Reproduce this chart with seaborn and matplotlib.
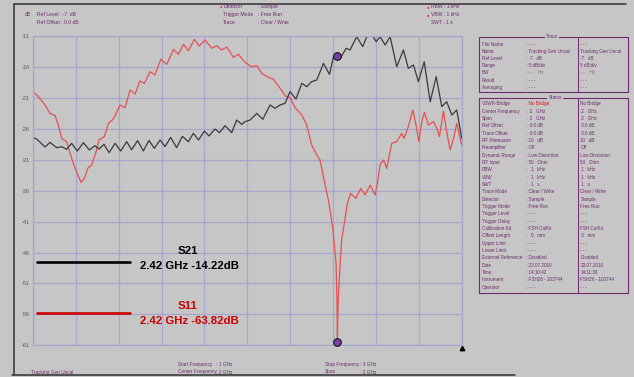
import matplotlib
matplotlib.use("Agg")
import matplotlib.pyplot as plt
from matplotlib.patches import Rectangle
from matplotlib.lines import Line2D
import numpy as np
import pandas as pd
import seaborn as sns

# ---- sweep settings / scale -------------------------------------------
START_GHZ = 1.0
STOP_GHZ = 3.0
Y_TICK_LABELS = ["-11", "-16", "-21", "-26", "-31", "-36",
                 "-41", "-46", "-51", "-56", "-61"]

# ---- S21 transmission trace (black) -----------------------------------
s21_freq = [1.000, 1.017, 1.056, 1.079, 1.110, 1.134, 1.157, 1.180, 1.207, 1.235,
            1.263, 1.289, 1.308, 1.331, 1.355, 1.383, 1.409, 1.437, 1.460, 1.488,
            1.515, 1.541, 1.566, 1.593, 1.616, 1.642, 1.670, 1.697, 1.725, 1.748,
            1.772, 1.800, 1.821, 1.849, 1.870, 1.896, 1.927, 1.950, 1.974, 1.989,
            2.013, 2.044, 2.072, 2.106, 2.129, 2.153, 2.176, 2.199, 2.227, 2.254,
            2.277, 2.300, 2.324, 2.355, 2.383, 2.402, 2.420, 2.433, 2.461, 2.479,
            2.510, 2.538, 2.557, 2.585, 2.601, 2.619, 2.643, 2.666, 2.697, 2.728,
            2.751, 2.775, 2.798, 2.825, 2.853, 2.881, 2.907, 2.930, 2.954, 2.977,
            3.000]
s21_level = [-27.43, -27.65, -28.94, -28.19, -29.05, -28.89, -29.32, -28.35, -29.59, -28.24,
             -29.43, -28.73, -29.27, -28.51, -29.86, -28.35, -29.59, -28.08, -29.38, -27.92,
             -29.59, -27.87, -29.16, -27.81, -28.89, -27.38, -29.05, -27.22, -28.08, -26.73,
             -27.81, -26.36, -27.17, -26.03, -26.63, -25.50, -26.63, -24.58, -25.28, -24.85,
             -24.58, -23.50, -24.47, -22.15, -22.69, -22.15, -21.88, -20.00, -21.18, -18.65,
             -19.19, -18.38, -18.11, -15.42, -17.20, -14.34, -14.22, -14.61, -13.00, -13.26,
             -11.11, -12.72, -11.11, -11.00, -11.92, -11.11, -12.45, -11.11, -15.96, -13.26,
             -16.23, -15.69, -18.38, -15.15, -21.62, -17.57, -22.42, -21.62, -23.77, -22.96,
             -27.54]

# ---- S11 reflection trace (red) ---------------------------------------
s11_freq = [1.000, 1.025, 1.056, 1.079, 1.103, 1.118, 1.134, 1.157, 1.173, 1.196,
            1.224, 1.240, 1.255, 1.274, 1.292, 1.308, 1.333, 1.352, 1.370, 1.383,
            1.406, 1.429, 1.453, 1.476, 1.499, 1.520, 1.546, 1.569, 1.596, 1.624,
            1.655, 1.678, 1.702, 1.725, 1.753, 1.775, 1.803, 1.834, 1.857, 1.880,
            1.904, 1.935, 1.958, 1.989, 2.020, 2.044, 2.067, 2.098, 2.122, 2.153,
            2.176, 2.199, 2.223, 2.254, 2.277, 2.300, 2.324, 2.339, 2.363, 2.378,
            2.398, 2.414, 2.4185, 2.420, 2.4235, 2.433, 2.440, 2.456, 2.467, 2.482,
            2.506, 2.529, 2.549, 2.573, 2.596, 2.608, 2.619, 2.635, 2.650, 2.674,
            2.697, 2.720, 2.731, 2.751, 2.772, 2.787, 2.800, 2.814, 2.826, 2.845,
            2.868, 2.884, 2.896, 2.915, 2.930, 2.946, 2.962, 2.977, 3.000]
s11_level = [-20.00, -20.81, -22.15, -23.50, -23.88, -25.39, -27.54, -28.08, -29.97, -32.39,
             -34.66, -34.01, -32.39, -31.85, -29.97, -27.81, -27.27, -25.12, -24.58, -23.88,
             -22.15, -22.59, -19.73, -20.38, -18.27, -18.65, -16.77, -17.30, -14.77, -15.58,
             -13.16, -13.96, -12.35, -13.37, -11.54, -12.62, -11.65, -12.99, -12.56, -13.26,
             -12.78, -14.45, -13.96, -15.26, -15.96, -15.80, -17.04, -17.68, -18.00, -19.46,
             -20.65, -20.97, -22.59, -23.77, -25.39, -28.62, -30.24, -31.05, -35.09, -37.51,
             -41.82, -47.75, -54.75, -63.82, -54.00, -47.75, -43.98, -40.48, -38.05, -36.43,
             -37.24, -35.63, -36.70, -35.09, -36.70, -34.55, -31.85, -31.05, -32.39, -28.35,
             -28.08, -26.73, -27.54, -25.66, -22.96, -25.39, -28.08, -24.85, -23.34, -25.39,
             -24.85, -25.93, -27.27, -23.12, -26.47, -29.43, -27.54, -25.12, -28.62]

# ---- marker readouts ---------------------------------------------------
marker_freq = 2.42
s21_marker_db = -14.22
s11_marker_db = -63.82

# ---- styling -----------------------------------------------------------
W, H = 634, 377
BG = "#c6c6c6"
GRID = "#a6a6cf"
PURPLE = "#6e2a6e"
RED = "#dd1111"
TRACE_RED = "#e85050"
TRACE_BLACK = "#3a3a3a"
DISPLAY_FLOOR = -60.4   # levels below the screen are pinned to its bottom edge
SMALL = 3.6

sns.set_style("white", {"axes.facecolor": BG, "figure.facecolor": BG})
plt.rcParams["font.family"] = ["Liberation Sans", "DejaVu Sans"]

fig = plt.figure(figsize=(W / 100, H / 100), dpi=100)
fig.patch.set_facecolor(BG)


def fx(px):
    return px / W


def fy(py):
    return 1 - py / H


def ftext(px, py, s, size=SMALL, color=PURPLE, **kw):
    kw.setdefault("va", "center")
    kw.setdefault("ha", "left")
    return fig.text(fx(px), fy(py), s, fontsize=size, color=color, **kw)


# ---- trace axes --------------------------------------------------------
ax = fig.add_axes([fx(33), fy(345.3), fx(461.7) - fx(33), fy(36) - fy(345.3)])
ax.set_facecolor(BG)

tick_vals = [float(t) for t in Y_TICK_LABELS]
ax.set_xlim(START_GHZ, STOP_GHZ)
ax.set_ylim(min(tick_vals), max(tick_vals))
ax.set_xticks(np.linspace(START_GHZ, STOP_GHZ, 11))
ax.set_xticklabels([])
ax.set_yticks(tick_vals)
ax.set_yticklabels(Y_TICK_LABELS, fontsize=4.0, color="#555555")
ax.tick_params(length=0, pad=2.5)
ax.grid(True, color=GRID, lw=0.9)
for sp in ax.spines.values():
    sp.set_color(GRID)
    sp.set_linewidth(0.9)

df21 = pd.DataFrame({"freq": s21_freq, "level": np.clip(s21_level, DISPLAY_FLOOR, None)})
df11 = pd.DataFrame({"freq": s11_freq, "level": np.clip(s11_level, DISPLAY_FLOOR, None)})
sns.lineplot(data=df11, x="freq", y="level", ax=ax, color=TRACE_RED, lw=0.9,
             estimator=None, sort=False)
sns.lineplot(data=df21, x="freq", y="level", ax=ax, color=TRACE_BLACK, lw=0.9,
             estimator=None, sort=False)

mk = pd.DataFrame({"freq": [marker_freq, marker_freq],
                   "level": np.clip([s21_marker_db, s11_marker_db], DISPLAY_FLOOR, None)})
sns.scatterplot(data=mk, x="freq", y="level", ax=ax, s=30, color="#7b3fa6",
                edgecolor="#151515", linewidth=0.8, zorder=5, clip_on=False)
ax.set_xlabel("")
ax.set_ylabel("")

# sweep position indicator
ax.plot([1.0], [-0.008], transform=ax.transAxes, marker="^", ms=3.2,
        color="black", clip_on=False)

# ---- marker legend -----------------------------------------------------
fig.add_artist(Line2D([fx(37), fx(130)], [fy(261.7), fy(261.7)], color="black", lw=1.9))
fig.add_artist(Line2D([fx(37), fx(130)], [fy(312.7), fy(312.7)], color="#cc0000", lw=1.9))
bold = dict(size=8.2, weight="bold", ha="center")
ftext(188, 250.7, "S21", color="black", **bold)
ftext(189, 266, f"{marker_freq:.2f} GHz {s21_marker_db:.2f}dB", color="black", **bold)
ftext(188, 305.7, "S11", color="#cc0000", **bold)
ftext(189, 321, f"{marker_freq:.2f} GHz {s11_marker_db:.2f}dB", color="#cc0000", **bold)

# ---- screen frame ------------------------------------------------------
fig.add_artist(Line2D([fx(14), fx(14)], [fy(4.3), fy(375)], color="#303030", lw=1.1))
fig.add_artist(Line2D([fx(14), fx(626)], [fy(4.3), fy(4.3)], color="#303030", lw=1.1))
fig.add_artist(Line2D([fx(12), fx(515)], [fy(375), fy(375)], color="#303030", lw=1.1))

# ---- header ------------------------------------------------------------
ftext(25, 14, "dB")
ftext(36.7, 14, "Ref Level : -7  dB")
ftext(36.7, 22, "Ref Offset : 0.0 dB")

hdr_rows = [("Detector", ": Sample", True), ("Trigger Mode", ": Free Run", False),
            ("Trace", ": Clear / Write", False)]
for i, (lab, val, dot) in enumerate(hdr_rows):
    y = 6.5 + i * 7.9
    if dot:
        ftext(219.5, y, "\u25cf", size=3.0, color=RED)
    ftext(223.3, y, lab)
    ftext(257.5, y, val)

rbw_rows = [("RBW : 1 kHz", True), ("VBW : 1 kHz", True), ("SWT : 1 s", False)]
for i, (lab, dot) in enumerate(rbw_rows):
    y = 6.8 + i * 7.9
    if dot:
        ftext(427, y, "\u25cf", size=3.0, color=RED)
    ftext(431, y, lab)

# ---- footer ------------------------------------------------------------
FOOT = 3.4
ftext(31, 372.3, "Tracking Gen Uncal", size=FOOT)
ftext(178, 364.5, "Start Frequency", size=FOOT)
ftext(216, 364.5, ": 1 GHz", size=FOOT)
ftext(178, 372, "Center Frequency", size=FOOT)
ftext(216, 372, ": 2 GHz", size=FOOT)
ftext(325, 364.5, "Stop Frequency", size=FOOT)
ftext(360.5, 364.5, ": 3 GHz", size=FOOT)
ftext(325, 372, "Span", size=FOOT)
ftext(360.5, 372, ": 2 GHz", size=FOOT)

# ---- settings panel ----------------------------------------------------
BOX_L, BOX_R, DIV_X = 479, 628, 578
COL_LAB, COL_VAL, COL_VAL2 = 481.5, 526, 580.5
PANEL = 3.35


def panel_box(top, bottom, title, title_x):
    fig.add_artist(Rectangle((fx(BOX_L), fy(bottom)), fx(BOX_R) - fx(BOX_L),
                             fy(top) - fy(bottom), transform=fig.transFigure,
                             fill=False, ec=PURPLE, lw=0.8))
    fig.add_artist(Line2D([fx(DIV_X), fx(DIV_X)], [fy(top), fy(bottom)],
                          color=PURPLE, lw=0.7))
    ftext(title_x, top, title, size=PANEL, ha="center",
          bbox=dict(fc=BG, ec="none", pad=0.6))


trace_rows = [
    ("File Name", ": - - -", "- - -", RED),
    ("Name", ": Tracking Gen Uncal", "Tracking Gen Uncal", PURPLE),
    ("Ref Level", ": -7   dB", "-7   dB", PURPLE),
    ("Range", ": 5 dB/div", "5 dB/div", PURPLE),
    ("BW", ": --.-   Hz", "--.-   Hz", "#8a6a8a"),
    ("Result", ": - - -", "- - -", PURPLE),
    ("Averaging", ": - - -", "- - -", PURPLE),
]
status_rows = [
    ("VSWR-Bridge", ": No Bridge", "No Bridge", RED),
    ("Center Frequency", ":  2   GHz", " 2   GHz", PURPLE),
    ("Span", ":  2   GHz", " 2   GHz", PURPLE),
    ("Ref Offset", ":  0.0 dB", " 0.0 dB", PURPLE),
    ("Trace Offset", ":  0.0 dB", " 0.0 dB", PURPLE),
    ("RF Attenuator", ": 10   dB", "10   dB", PURPLE),
    ("Preamplifier", ": Off", "Off", PURPLE),
    ("Dynamic Range", ": Low Distortion", "Low Distortion", PURPLE),
    ("RF Input", ": 50   Ohm", "50   Ohm", PURPLE),
    ("RBW", ":   1   kHz", " 1   kHz", PURPLE),
    ("VBW", ":   1   kHz", " 1   kHz", PURPLE),
    ("SWT", ":   1   s", " 1   s", PURPLE),
    ("Trace Mode", ": Clear / Write", "Clear / Write", PURPLE),
    ("Detector", ": Sample", "Sample", PURPLE),
    ("Trigger Mode", ": Free Run", "Free Run", PURPLE),
    ("Trigger Level", ": - - -", "- - -", PURPLE),
    ("Trigger Delay", ": - - -", "- - -", PURPLE),
    ("Calibration Kit", ": FSH CalKit", "FSH CalKit", PURPLE),
    ("Offset Length", ":   0   mm", " 0   mm", PURPLE),
    ("Upper Limit", ": - - -", "- - -", PURPLE),
    ("Lower Limit", ": - - -", "- - -", PURPLE),
    ("External Reference", ": Disabled", "Disabled", PURPLE),
    ("Date", ": 23.07.2010", "23.07.2010", PURPLE),
    ("Time", ": 14:10:42", "14:11:38", PURPLE),
    ("Instrument", ": FSH26 - 103744", "FSH26 - 103744", PURPLE),
    ("Operator", ": - - -", "- - -", PURPLE),
]

panel_box(36.7, 92.3, "Trace", 552)
for i, (lab, v1, v2, col) in enumerate(trace_rows):
    y = 44 + i * 7.2
    ftext(COL_LAB, y, lab, size=PANEL)
    ftext(COL_VAL, y, v1, size=PANEL, color=col)
    ftext(COL_VAL2, y, v2, size=PANEL, color=PURPLE if col == RED else col)

panel_box(97.7, 292.7, "Status", 555)
for i, (lab, v1, v2, col) in enumerate(status_rows):
    y = 104 + i * 7.33
    ftext(COL_LAB, y, lab, size=PANEL)
    ftext(COL_VAL, y, v1, size=PANEL, color=col)
    ftext(COL_VAL2, y, v2, size=PANEL, color=PURPLE if col == RED else col)

fig.savefig("out.png", dpi=100, facecolor=BG)
